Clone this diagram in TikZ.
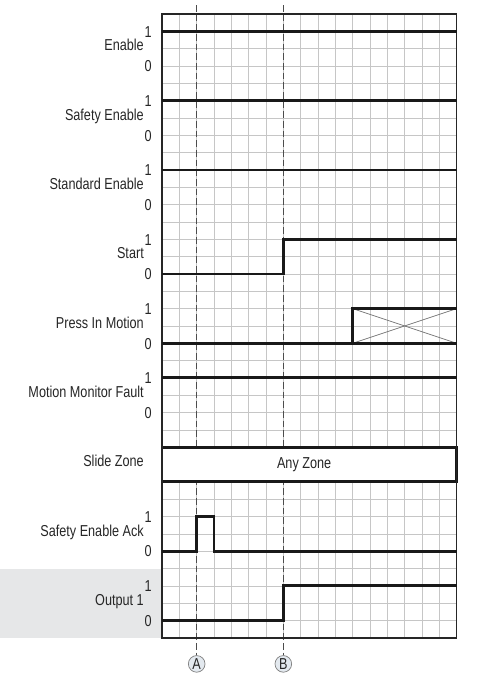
\documentclass[tikz,border=0pt]{standalone}
\usepackage{fontspec}
\setmainfont{Liberation Sans}[FakeStretch=0.8]
\usetikzlibrary{positioning}
\definecolor{gridgray}{HTML}{C6C6C6}
\definecolor{bandgray}{HTML}{E6E7E8}
\definecolor{textgray}{HTML}{262626}
\definecolor{circfill}{HTML}{E3E9EF}
\begin{document}
\begin{tikzpicture}[x=0.52cm,y=-0.52cm,
  every node/.style={font=\fontsize{13.5}{15}\selectfont,text=textgray,inner sep=0pt},
  signame/.style={anchor=base east},
  level/.style={anchor=base east},
  gridline/.style={gridgray,line width=0.6pt},
  frame/.style={draw=black!85,line width=1.2pt},
  wave/.style={draw=black!90,line width=2.5pt},
  guide/.style={draw=black!70,line width=0.9pt,dash pattern=on 0.2cm off 0.09cm},
  cross/.style={draw=black!55,line width=0.6pt},
  marker/.style={circle,draw=black!50,line width=0.6pt,fill=circfill,minimum size=0.5cm}]
  \useasboundingbox (-9.35,-0.81) rectangle (18.52,38.43);
  \fill[bandgray] (-9.35,32) rectangle (0,36);
  \foreach \c in {1,...,16} \draw[gridline] (\c,0) -- (\c,36);
  \foreach \r in {1,...,35} \draw[gridline] (0,\r) -- (17,\r);
  \coordinate (Atop) at (2,-0.52);
  \coordinate (Btop) at (7,-0.52);
  \node[marker] (A) at (2,37.5) {A};
  \node[marker] (B) at (7,37.5) {B};
  \draw[guide] (Atop) -- (A);
  \draw[guide] (Btop) -- (B);
  \draw[wave,fill=white] (0,25) rectangle (17,27);
  \node (zone) at (8.2,26) {Any Zone};
  \draw[frame] (0,0) rectangle (17,36);
  \node[signame] (en) at (-1.04,2.12) {Enable};
  \node[signame] (sen) at (-1.04,6.12) {Safety Enable};
  \node[signame] (sten) at (-1.04,10.12) {Standard Enable};
  \node[signame] (st) at (-1.04,14.12) {Start};
  \node[signame] (pim) at (-1.04,18.12) {Press In Motion};
  \node[signame] (mmf) at (-1.04,22.12) {Motion Monitor Fault};
  \node[signame] (sz) at (-1.04,26.12) {Slide Zone};
  \node[signame] (sea) at (-1.04,30.12) {Safety Enable Ack};
  \node[signame] (out) at (-1.04,34.12) {Output 1};
  \foreach \r in {1,5,9,13,17,21,29,33} {
    \node[level] (one\r) at (-0.58,\r+0.33) {1};
    \node[level] (zero\r) at (-0.58,\r+2.33) {0};
  }
  \draw[wave] (0,1) -- (17,1);
  \draw[wave] (0,5) -- (17,5);
  \draw[wave] (0,9) -- (17,9);
  \draw[wave] (0,15) -- (7,15) -- (7,13) -- (17,13);
  \draw[cross] (11,17) -- (17,19);
  \draw[cross] (11,19) -- (17,17);
  \draw[wave] (0,19) -- (17,19);
  \draw[wave] (11,19) -- (11,17) -- (17,17);
  \draw[wave] (0,21) -- (17,21);
  \draw[wave] (0,31) -- (2,31) -- (2,29) -- (3,29) -- (3,31) -- (17,31);
  \draw[wave] (0,35) -- (7,35) -- (7,33) -- (17,33);
\end{tikzpicture}
\end{document}
